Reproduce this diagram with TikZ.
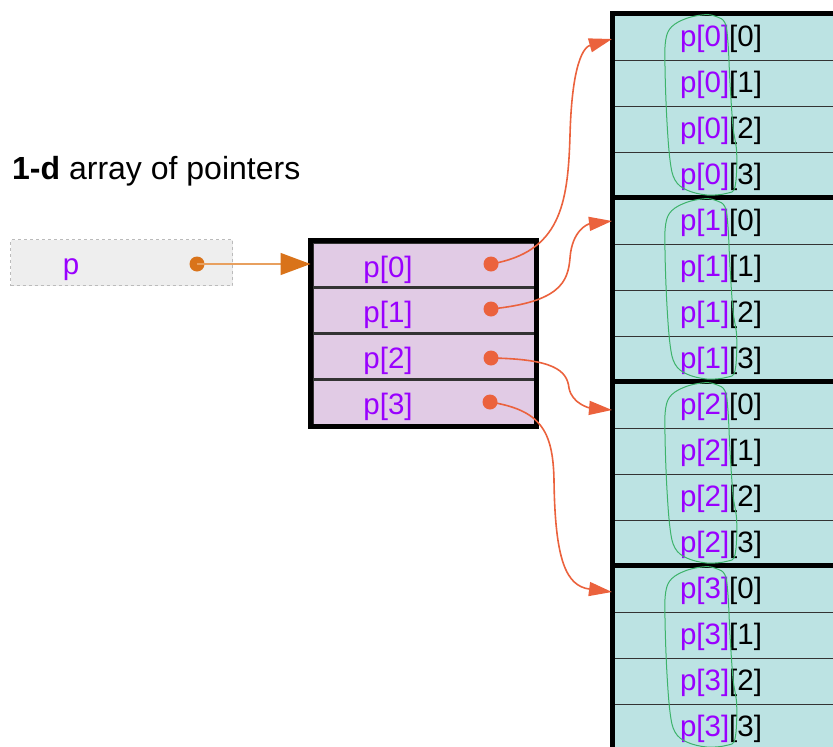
\documentclass[tikz,border=0pt]{standalone}
\usepackage{fontspec}
\setmainfont{Liberation Sans}
\usetikzlibrary{arrows.meta}
\definecolor{ptxt}{RGB}{153,0,255}
\definecolor{tealfill}{RGB}{188,227,227}
\definecolor{lavfill}{RGB}{225,203,229}
\definecolor{parr}{RGB}{235,98,61}
\definecolor{porange}{RGB}{217,115,26}
\definecolor{plight}{RGB}{232,160,95}
\definecolor{gfill}{RGB}{238,238,238}
\definecolor{gborder}{RGB}{187,187,187}
\definecolor{gloop}{RGB}{61,179,107}
\definecolor{sep}{RGB}{51,51,51}
\begin{document}
\begin{tikzpicture}[x=1pt,y=-1pt,
  cellfont/.style={font=\fontsize{29.5}{34}\selectfont},
  txt/.style={cellfont,anchor=base,inner sep=0pt},
  rcell/.style={fill=tealfill,draw=sep,line width=1.3pt,minimum width=228pt,minimum height=46pt,inner sep=0pt,anchor=north west},
  mcell/.style={fill=lavfill,draw=sep,line width=3pt,minimum width=223pt,minimum height=45.75pt,inner sep=0pt,anchor=north west},
  dotnode/.style={circle,fill=parr,minimum size=15pt,inner sep=0pt},
  parrow/.style={draw=parr,line width=1.6pt,-{Triangle[length=23pt,width=14pt]}},
  greenloop/.style={draw=gloop,line width=1pt},
  thickb/.style={line width=5pt,black}
]
\useasboundingbox (0,0) rectangle (833,747);
\clip (0,0) rectangle (833,747);

% title
\node[anchor=base west,inner sep=0pt,font=\fontsize{32}{38}\selectfont] (title) at (12,179) {\textbf{1-d} array of pointers};

% p box
\node[fill=gfill,draw=gborder,dashed,line width=1pt,minimum width=222pt,minimum height=46pt,inner sep=0pt,anchor=north west] (pbox) at (10,239) {};
\node[txt,text=ptxt] (plabel) at (71,274) {p};
\node[circle,fill=porange,minimum size=15pt,inner sep=0pt] (pdot) at (197,264) {};

% middle array
\foreach \i in {0,...,3} {
  \node[mcell] (m\i) at (310.5,{240.5+45.75*\i}) {};
}
\draw[thickb] (m0.north west) rectangle (m3.south east);
\foreach \i in {0,...,3} {
  \node[txt,text=ptxt] (mt\i) at (388,{277+45.75*\i}) {p[\i]};
}

% right array
\foreach \b in {0,...,3} {
  \foreach \r in {0,...,3} {
    \node[rcell] (r\b\r) at (612.5,{13.5+184*\b+46*\r}) {};
    \node[txt] (rt\b\r) at (721,{46+184*\b+46*\r}) {\textcolor{ptxt}{p[\b]}[\r]};
  }
}
\draw[thickb] (r30.south west |- 0,760) -- (r00.north west) -- (r00.north east);
\foreach \b in {1,2,3} {
  \draw[thickb] (r\b0.north west) -- (r\b0.north east);
}

% green loops
\foreach \b in {0,...,3} {
  \begin{scope}[shift={(0,184*\b)}]
  \draw[greenloop] plot[smooth cycle,tension=0.6] coordinates {
    (705,14.7) (686.7,18.3) (671.7,26.7) (665.7,40) (665,66.7) (666.7,116.7)
    (670,160) (675,180) (686.7,190) (706.7,195) (726.7,193.3) (735,186.7)
    (736.7,153) (733,126.7) (730,83) (728,43) (725,23) (716.7,16.7)};
  \end{scope}
}

% arrow targets
\coordinate (t0) at (612,39);
\coordinate (t1) at (612,221);
\coordinate (t2) at (612,410);
\coordinate (t3) at (612,592);

% dots in middle array
\node[dotnode] (d0) at (491,264) {};
\node[dotnode] (d1) at (491,309) {};
\node[dotnode] (d2) at (491,358) {};
\node[dotnode] (d3) at (490,402) {};

% pointer arrows
\draw[parrow] (d0.center) .. controls (560,252) and (568,205) .. (570,135) .. controls (572,62) and (584,47) .. (t0);
\draw[parrow] (d1.center) .. controls (560,302) and (568,282) .. (570,258) .. controls (572,230) and (588,224) .. (t1);
\draw[parrow] (d2.center) .. controls (553,359) and (567,370) .. (569,388) .. controls (572,404) and (590,408) .. (t2);
\draw[parrow] (d3.center) .. controls (540,410) and (553,430) .. (554,480) .. controls (555,560) and (566,586) .. (t3);

% p arrow
\draw[draw=plight,line width=1.5pt,-{Triangle[length=30pt,width=22pt,color=porange]}] (pdot.center) -- (m0.west |- pdot.center);
\end{tikzpicture}
\end{document}
